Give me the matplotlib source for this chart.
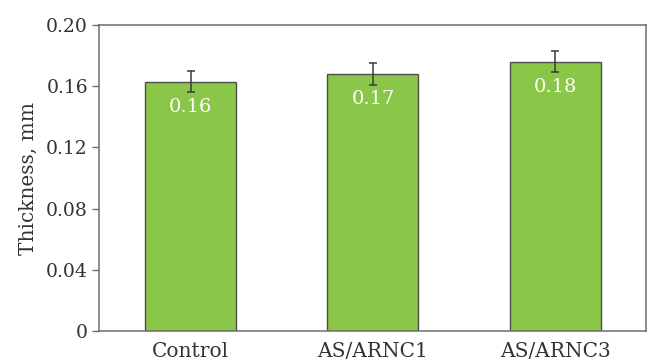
import matplotlib
matplotlib.use("Agg")
import matplotlib.pyplot as plt

# Film thickness per sample group
categories = ["Control", "AS/ARNC1", "AS/ARNC3"]
thickness = [0.163, 0.168, 0.176]
errors = [0.007, 0.0072, 0.007]
yticks = [0, 0.04, 0.08, 0.12, 0.16, 0.20]
ytick_labels = ["0", "0.04", "0.08", "0.12", "0.16", "0.20"]

plt.rcParams["font.family"] = ["DejaVu Serif"]

fig = plt.figure(figsize=(6.48, 3.62), dpi=100)
ax = fig.add_axes([99 / 648, 1 - 331 / 362, (645.5 - 99) / 648, (331 - 25) / 362])

x = list(range(len(categories)))
ax.bar(x, thickness, width=0.5, color="#8AC647", edgecolor="#4d4d4d", linewidth=1.0, zorder=2)
ax.errorbar(x, thickness, yerr=errors, fmt="none", ecolor="#3a3a3a", elinewidth=1.1,
            capsize=3, capthick=1.1, zorder=3)

for xi, v in zip(x, thickness):
    ax.annotate(f"{v:.2f}", (xi, v), xytext=(0, -18), textcoords="offset points",
                ha="center", va="center", color="white", fontsize=14, zorder=4)

ax.set_xlim(-0.505, 2.497)
ax.set_ylim(0, 0.20)
ax.set_yticks(yticks)
ax.set_yticklabels(ytick_labels)
ax.set_xticks(x)
ax.set_xticklabels(categories)
ax.set_ylabel("Thickness, mm", fontsize=14.5, color="#333333", labelpad=6)

for s in ax.spines.values():
    s.set_color("#6e6e6e")
    s.set_linewidth(1.1)

ax.tick_params(axis="y", direction="out", length=5, width=1.0, color="#6e6e6e",
               labelsize=13.5, labelcolor="#333333", pad=3)
ax.tick_params(axis="x", length=0, labelsize=14.5, labelcolor="#333333", pad=8)

fig.savefig("out.png", dpi=100)
